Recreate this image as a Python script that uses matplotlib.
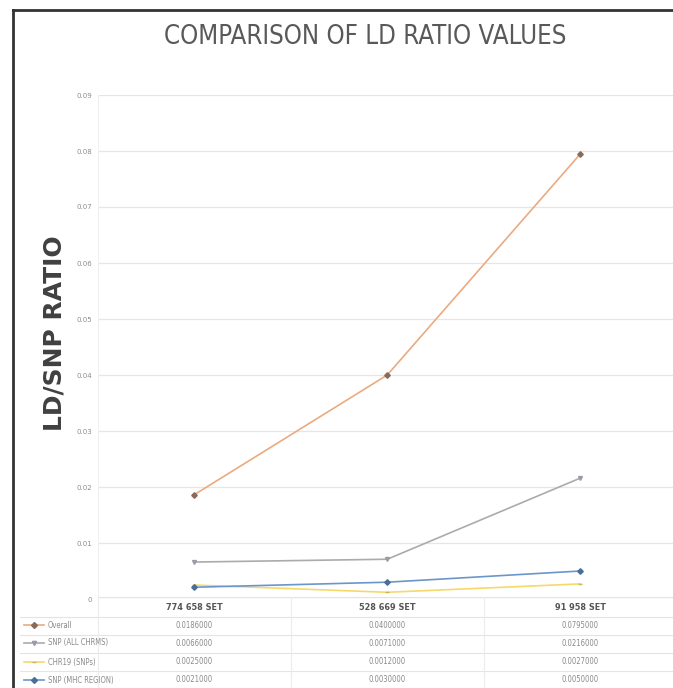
import matplotlib
matplotlib.use("Agg")
import matplotlib.pyplot as plt
from matplotlib.transforms import blended_transform_factory
from matplotlib.lines import Line2D
from matplotlib import font_manager
from matplotlib.font_manager import FontProperties

categories = ["774 658 SET", "528 669 SET", "91 958 SET"]
series_names = ["Overall", "SNP (ALL CHRMS)", "CHR19 (SNPs)", "SNP (MHC REGION)"]
overall = [0.0186, 0.0400, 0.0795]
snp_all = [0.0066, 0.0071, 0.0216]
chr19 = [0.0025, 0.0012, 0.0027]
mhc = [0.0021, 0.0030, 0.0050]
yticks = [0, 0.01, 0.02, 0.03, 0.04, 0.05, 0.06, 0.07, 0.08, 0.09]
ytick_labels = ["0", "0.01", "0.02", "0.03", "0.04", "0.05", "0.06", "0.07", "0.08", "0.09"]

series = [overall, snp_all, chr19, mhc]
colors = ["#EBAA80", "#ABABAB", "#F7D86A", "#6B96CC"]
mcolors = ["#8A6A5A", "#9A9AA8", "#C8B860", "#4A6E98"]
markers = ["D", "v", "_", "D"]

cond = None
cond_bold = None
for f in font_manager.fontManager.ttflist:
    fn = f.fname.lower()
    if ("condensed" in fn or "narrow" in fn) and "italic" not in fn and "oblique" not in fn:
        if "bold" in fn and cond_bold is None:
            cond_bold = f.fname
        elif "bold" not in fn and "light" not in fn and cond is None:
            cond = f.fname
if cond:
    title_fp = FontProperties(fname=cond, size=18.5)
    small_fp = FontProperties(fname=cond, size=5.5)
else:
    title_fp = FontProperties(family="DejaVu Sans", size=17)
    small_fp = FontProperties(family="DejaVu Sans", size=4.6)
if cond_bold:
    head_fp = FontProperties(fname=cond_bold, size=6.5)
elif cond:
    head_fp = FontProperties(fname=cond, size=6.5, weight="bold")
else:
    head_fp = FontProperties(family="DejaVu Sans", size=5.5, weight="bold")

W, H = 673, 688
fig = plt.figure(figsize=(W / 100, H / 100), dpi=100)
fig.patch.set_facecolor("white")

def fx(px):
    return px / W

def fy(py):
    return 1 - py / H

ax = fig.add_axes([fx(97.5), fy(599), fx(677 - 97.5), fy(95) - fy(599)])
ax.set_xlim(-0.5, 2.5)
ax.set_ylim(0, 0.09)
ax.set_yticks(yticks)
ax.set_yticklabels(ytick_labels)
ax.tick_params(axis="y", length=0, pad=4, labelsize=5, labelcolor="#8c8c8c")
ax.set_xticks([])
ax.grid(axis="y", color="#e6e6e6", linewidth=0.9)
for s in ax.spines.values():
    s.set_visible(False)
ax.axvline(-0.5, color="#f0f0f0", lw=0.8)

x = list(range(len(categories)))
for vals, c, mc, m in zip(series, colors, mcolors, markers):
    ax.plot(x, vals, color=c, lw=1.2, marker=m, markersize=2.8,
            markerfacecolor=mc, markeredgecolor=mc, zorder=3)

fig.text(fx(365), fy(37), "COMPARISON OF LD RATIO VALUES", ha="center", va="center",
         fontproperties=title_fp, color="#595959")
fig.text(fx(55), fy(333), "LD/SNP RATIO", ha="center", va="center", rotation=90,
         fontsize=18, fontweight="bold", color="#404040", family="DejaVu Sans")

tr = blended_transform_factory(ax.transData, fig.transFigure)
row_y = [608, 625, 643, 662, 680]
sep_y = [617, 635, 653, 671]
for sy in sep_y:
    fig.add_artist(Line2D([fx(20), fx(673)], [fy(sy), fy(sy)], color="#e4e4e4", lw=0.8))
fig.add_artist(Line2D([fx(97.5), fx(673)], [fy(597), fy(597)], color="#e4e4e4", lw=0.8))
for bx in [97.5, 290.5, 483.5]:
    fig.add_artist(Line2D([fx(bx), fx(bx)], [fy(597), fy(688)], color="#ececec", lw=0.8))

for i, cat in enumerate(categories):
    ax.text(i, fy(row_y[0]), cat, transform=tr, ha="center", va="center",
            fontproperties=head_fp, color="#555555", clip_on=False)

for r, (name, vals, c, mc, m) in enumerate(zip(series_names, series, colors, mcolors, markers)):
    yy = fy(row_y[r + 1])
    fig.add_artist(Line2D([fx(24), fx(34), fx(44)], [yy, yy, yy], color=c, lw=1.2,
                          marker=m, markersize=3, markevery=[1],
                          markerfacecolor=mc, markeredgecolor=mc))
    fig.text(fx(48), yy, name, ha="left", va="center", fontproperties=small_fp, color="#8a8a8a")
    for i, v in enumerate(vals):
        ax.text(i, yy, f"{v:.7f}", transform=tr, ha="center", va="center",
                fontproperties=small_fp, color="#8a8a8a", clip_on=False)

fig.add_artist(Line2D([fx(13), fx(13)], [fy(10), fy(688)], color="#333333", lw=2))
fig.add_artist(Line2D([fx(13), fx(673)], [fy(10), fy(10)], color="#333333", lw=2))

fig.savefig("out.png", dpi=100, facecolor="white")
